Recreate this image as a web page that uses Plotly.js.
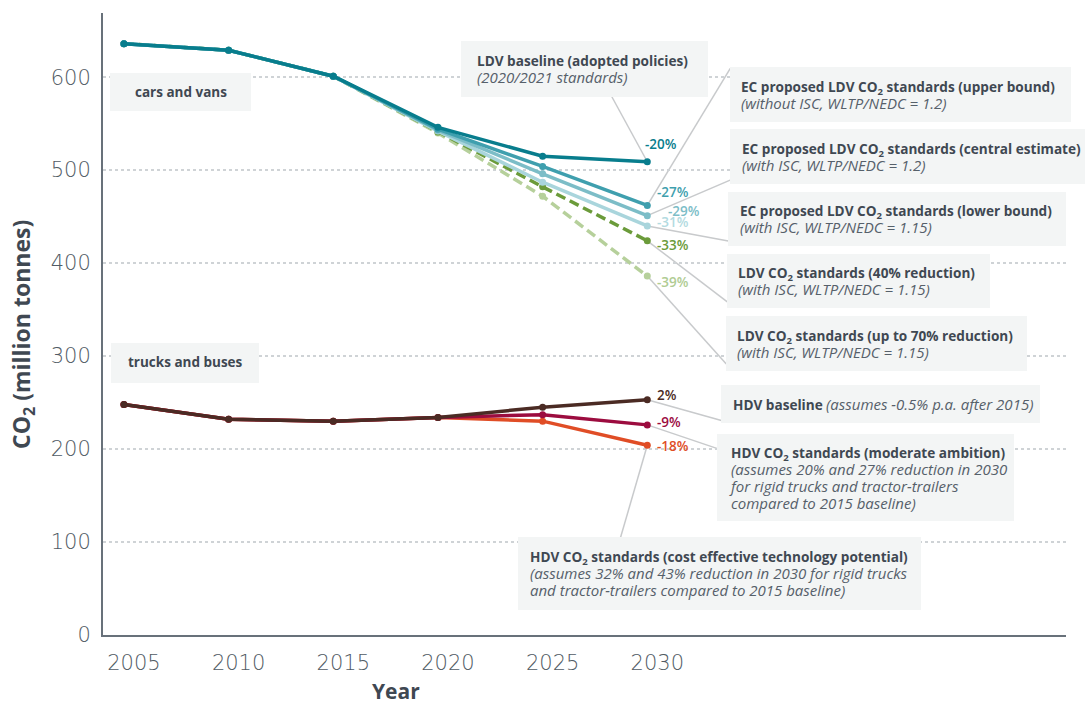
<!DOCTYPE html>
<html>
<head>
<meta charset="utf-8">
<script src="https://cdn.plot.ly/plotly-3.0.1.min.js"></script>
<style>html,body{margin:0;padding:0;background:#fff;}#chart{width:1087px;height:704px;}</style>
</head>
<body>
<div id="chart"></div>
<script>
// ---------- DATA ----------
const years = [2005, 2010, 2015, 2020, 2025, 2030];
const ldvBaseline = [636, 629, 601, 546, 515, 509];
const ldvUpper    = [636, 629, 601, 544, 504, 462];
const ldvCentral  = [636, 629, 601, 543, 496, 451];
const ldvLower    = [636, 629, 601, 542, 487, 440];
const ldv40       = [636, 629, 601, 541, 482, 424];
const ldv70       = [636, 629, 601, 540, 472, 386];
const hdvBaseline = [248, 232, 230, 234, 245, 253];
const hdvModerate = [248, 232, 230, 234, 237, 226];
const hdvCost     = [248, 232, 230, 234, 230, 204];
const pctLabels = ['-20%', '-27%', '-29%', '-31%', '-33%', '-39%', '2%', '-9%', '-18%'];
const xTicks = [2005, 2010, 2015, 2020, 2025, 2030];
const yTicks = [0, 100, 200, 300, 400, 500, 600];
const groupLabels = ['cars and vans', 'trucks and buses'];
const seriesTitles = [
  'LDV baseline (adopted policies)',
  'EC proposed LDV CO<sub>2</sub> standards (upper bound)',
  'EC proposed LDV CO<sub>2</sub> standards (central estimate)',
  'EC proposed LDV CO<sub>2</sub> standards (lower bound)',
  'LDV CO<sub>2</sub> standards (40% reduction)',
  'LDV CO<sub>2</sub> standards (up to 70% reduction)',
  'HDV baseline',
  'HDV CO<sub>2</sub> standards (moderate ambition)',
  'HDV CO<sub>2</sub> standards (cost effective technology potential)'
];
const seriesNotes = [
  ['(2020/2021 standards)'],
  ['(without ISC, WLTP/NEDC = 1.2)'],
  ['(with ISC, WLTP/NEDC = 1.2)'],
  ['(with ISC, WLTP/NEDC = 1.15)'],
  ['(with ISC, WLTP/NEDC = 1.15)'],
  ['(with ISC, WLTP/NEDC = 1.15)'],
  ['(assumes -0.5% p.a. after 2015)'],
  ['(assumes 20% and 27% reduction in 2030', 'for rigid trucks and tractor-trailers', 'compared to 2015 baseline)'],
  ['(assumes 32% and 43% reduction in 2030 for rigid trucks', 'and tractor-trailers compared to 2015 baseline)']
];
const xTitle = 'Year';
const yTitle = 'CO<sub>2</sub> (million tonnes)';

// ---------- STYLE / LAYOUT ----------
const seriesValues = [ldvBaseline, ldvUpper, ldvCentral, ldvLower, ldv40, ldv70, hdvBaseline, hdvModerate, hdvCost];
const colors = ['#087d8d', '#3f9fae', '#7cbdc7', '#a9d5dc', '#6b9b3a', '#b6d09b', '#4b2b24', '#9c0c3f', '#e04d26'];
const labelColors = ['#087d8d', '#3f9fae', '#7cbdc7', '#b3dbe1', '#6b9b3a', '#b0cc93', '#4b2b24', '#9c0c3f', '#e04d26'];
const dashes = ['solid', 'solid', 'solid', 'solid', '10px,5px', '10px,5px', 'solid', 'solid', 'solid'];
const drawOrder = [5, 4, 3, 2, 1, 0, 8, 7, 6];

// plot area in pixels
const PL = 103, PR = 1066, PT = 13, PB = 635;
const px = v => (v - PL) / (PR - PL);
const py = v => (PB - v) / (PB - PT);

// label offsets (pixels) relative to 2030 point: [xshift, yshift]
const pctShift = [[-4, 18], [8, 13], [19, 5], [8, 4], [8, -4], [8, -6], [8, 5], [8, 3], [8, -1]];
// leader line offsets from 2030 point to box edge (pixels, screen down positive)
const leader = [[-36, -66], [83, -137], [84, -36], [81, 15], [80, 61], [79, 88], [75, 21], [71, 24], [-27, 93]];
// boxes: [x0, y0, x1, y1, textLeft, textCenterY]
const boxGeom = [
  [461, 41, 708, 97, 475, 69],
  [730, 67, 1071, 122, 739, 95],
  [730, 129, 1085, 184, 740, 157],
  [728, 192, 1066, 246, 738, 219],
  [727, 254, 990, 308, 736, 281],
  [726, 316, 1027, 371, 735, 344],
  [721, 385, 1040, 423, 731, 404],
  [717, 434, 1014, 521, 727, 478],
  [518, 537, 921, 610, 528, 573]
];
const groupGeom = [[110, 73, 251, 111, 181, 92], [111, 343, 259, 383, 185, 362]];

const textColor = '#3f4852';
const noteColor = '#56606a';
const boxFill = '#f3f5f5';
const leaderColor = '#c8cacc';
const titleSpan = t => '<span style="font-size:13.6px"><b>' + t + '</b></span>';
const noteSpan = t => '<span style="font-size:15px;color:' + noteColor + '"><i>' + t + '</i></span>';

const traces = drawOrder.map(i => ({
  type: 'scatter',
  mode: 'lines+markers',
  x: years,
  y: seriesValues[i],
  line: {color: colors[i], width: 3.5, dash: dashes[i]},
  marker: {color: colors[i], size: 7},
  hoverinfo: 'skip',
  showlegend: false
}));

const shapes = [];
const annotations = [];

boxGeom.forEach((b, i) => {
  shapes.push({type: 'rect', xref: 'paper', yref: 'paper', layer: 'above',
    x0: px(b[0]), x1: px(b[2]), y0: py(b[3]), y1: py(b[1]),
    fillcolor: boxFill, line: {width: 0}});
  let text;
  if (i === 6) {
    text = titleSpan(seriesTitles[i]) + ' ' + noteSpan(seriesNotes[i][0]);
  } else {
    text = titleSpan(seriesTitles[i]) + seriesNotes[i].map(n => '<br>' + noteSpan(n)).join('');
  }
  annotations.push({xref: 'paper', yref: 'paper', x: px(b[4]), y: py(b[5]),
    xanchor: 'left', yanchor: 'middle', align: 'left', showarrow: false,
    text: text, font: {family: 'Open Sans, sans-serif', size: 13, color: textColor}});
  // leader line from 2030 point
  const yr = years[years.length - 1];
  const val = seriesValues[i][seriesValues[i].length - 1];
  shapes.push({type: 'line', layer: 'below',
    xref: 'x', yref: 'y', xsizemode: 'pixel', ysizemode: 'pixel',
    xanchor: yr, yanchor: val,
    x0: 0, y0: 0, x1: leader[i][0], y1: -leader[i][1],
    line: {color: leaderColor, width: 1.5}});
  // percent label
  annotations.push({xref: 'x', yref: 'y', x: yr, y: val, xanchor: 'left', yanchor: 'middle',
    xshift: pctShift[i][0], yshift: pctShift[i][1], showarrow: false, text: pctLabels[i],
    font: {family: 'Open Sans, sans-serif', size: 13.5, color: labelColors[i], weight: 600}});
});

groupGeom.forEach((b, i) => {
  shapes.push({type: 'rect', xref: 'paper', yref: 'paper', layer: 'above',
    x0: px(b[0]), x1: px(b[2]), y0: py(b[3]), y1: py(b[1]),
    fillcolor: boxFill, line: {width: 0}});
  annotations.push({xref: 'paper', yref: 'paper', x: px(b[4]), y: py(b[5]),
    xanchor: 'center', yanchor: 'middle', showarrow: false,
    text: '<b>' + groupLabels[i] + '</b>', font: {family: 'Open Sans, sans-serif', size: 13.5, color: textColor}});
});

// axis titles placed as in the original (not centred on the plot)
annotations.push({xref: 'paper', yref: 'paper', x: px(396), y: py(691), xanchor: 'center', yanchor: 'middle',
  showarrow: false, text: '<b>' + xTitle + '</b>', font: {family: 'Open Sans, sans-serif', size: 21, color: textColor}});
annotations.push({xref: 'paper', yref: 'paper', x: px(23), y: py(335), xanchor: 'center', yanchor: 'middle',
  textangle: -90, showarrow: false, text: '<b>' + yTitle + '</b>',
  font: {family: 'Open Sans, sans-serif', size: 23, color: textColor}});

const tickFont = {family: 'DejaVu Sans, sans-serif', size: 21, color: '#515b64', weight: 200};

const layout = {
  width: 1087, height: 704,
  margin: {l: PL, r: 1087 - PR, t: PT, b: 704 - PB, pad: 0},
  paper_bgcolor: '#ffffff', plot_bgcolor: '#ffffff',
  showlegend: false, hovermode: false,
  xaxis: {
    range: [2004, 2050], tickvals: xTicks, ticktext: xTicks.map(String),
    showgrid: false, zeroline: false, showline: true, linecolor: '#68717a', linewidth: 2,
    ticks: '', ticklabelshift: 10, ticklabelstandoff: 8,
    tickfont: tickFont, automargin: false, fixedrange: true
  },
  yaxis: {
    range: [0, 669], tickvals: yTicks, ticktext: yTicks.map(String),
    showgrid: true, gridcolor: '#cfd3d6', gridwidth: 1.5, griddash: 'dot',
    zeroline: false, showline: true, linecolor: '#68717a', linewidth: 2,
    ticks: '', ticklabelstandoff: 6,
    tickfont: tickFont, automargin: false, fixedrange: true
  },
  shapes: shapes,
  annotations: annotations
};

Plotly.newPlot('chart', traces, layout, {displayModeBar: false, staticPlot: true});
</script>
</body>
</html>
